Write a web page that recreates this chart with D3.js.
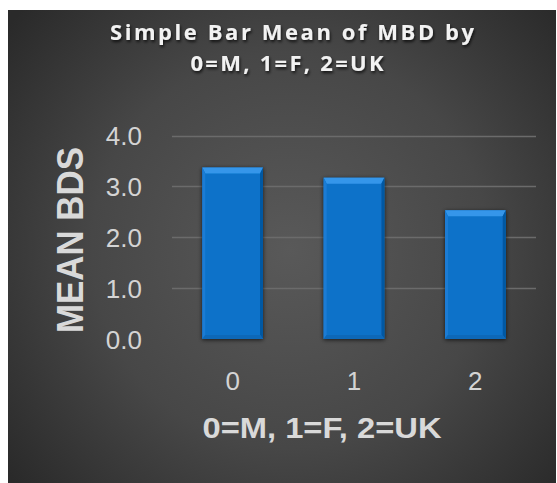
<!DOCTYPE html>
<html>
<head>
<meta charset="utf-8">
<script src="https://cdn.jsdelivr.net/npm/d3@7/dist/d3.min.js"></script>
<style>
  html, body { margin: 0; padding: 0; background: #ffffff; }
  svg { display: block; }
</style>
</head>
<body>
<script>
// Chart data
const categories = ["0", "1", "2"];
const meanValues = [3.37, 3.17, 2.53];
const yTicks = [0, 1, 2, 3, 4];
const titleLines = ["Simple Bar Mean of MBD by", "0=M, 1=F, 2=UK"];
const xTitle = "0=M, 1=F, 2=UK";
const yTitle = "MEAN BDS";

const W = 557, H = 483;
const panel = { x: 8, y: 10, w: 548, h: 473 };
const plot = { left: 172, right: 536, top: 135.5, bottom: 339 };

const svg = d3.select("body").append("svg")
  .attr("width", W).attr("height", H);

const defs = svg.append("defs");

// Dark radial backdrop
const bg = defs.append("radialGradient").attr("id", "bgGrad")
  .attr("gradientUnits", "userSpaceOnUse")
  .attr("cx", 290).attr("cy", 250).attr("r", 360);
bg.append("stop").attr("offset", "0%").attr("stop-color", "#595959");
bg.append("stop").attr("offset", "55%").attr("stop-color", "#474747");
bg.append("stop").attr("offset", "100%").attr("stop-color", "#2a2a2a");

// Soft text shadow
const ts = defs.append("filter").attr("id", "textShadow")
  .attr("x", "-10%").attr("y", "-30%").attr("width", "120%").attr("height", "160%");
ts.append("feDropShadow").attr("dx", 1).attr("dy", 2).attr("stdDeviation", 1.5)
  .attr("flood-color", "#000").attr("flood-opacity", 0.75);

// Outer shadow for bars
const bs = defs.append("filter").attr("id", "barShadow")
  .attr("x", "-30%").attr("y", "-10%").attr("width", "160%").attr("height", "120%");
bs.append("feDropShadow").attr("dx", 0).attr("dy", 1).attr("stdDeviation", 2.2)
  .attr("flood-color", "#000").attr("flood-opacity", 0.7);

const ls = defs.append("filter").attr("id", "lineShadow")
  .attr("x", "-5%").attr("y", "-200%").attr("width", "110%").attr("height", "500%");
ls.append("feDropShadow").attr("dx", 0).attr("dy", 2).attr("stdDeviation", 1.2)
  .attr("flood-color", "#000").attr("flood-opacity", 0.7);

svg.append("rect")
  .attr("x", panel.x).attr("y", panel.y)
  .attr("width", panel.w).attr("height", panel.h)
  .attr("fill", "url(#bgGrad)");

// Scales
const x = d3.scaleBand().domain(categories)
  .range([plot.left, plot.right]).paddingInner(0.5).paddingOuter(0.25);
const y = d3.scaleLinear().domain([0, 4]).range([plot.bottom, plot.top]);

// Gridlines
svg.append("g").selectAll("line").data(yTicks.filter(d => d > 0)).join("line")
  .attr("x1", plot.left).attr("x2", plot.right)
  .attr("y1", d => Math.round(y(d)) + 0.5).attr("y2", d => Math.round(y(d)) + 0.5)
  .attr("stroke", "#6b6b6b").attr("stroke-width", 1.3);

// Y tick labels
const yAxis = d3.axisLeft(y).tickValues(yTicks).tickFormat(d3.format(".1f")).tickSize(0).tickPadding(0);
const yg = svg.append("g").attr("transform", `translate(${142},0)`).call(yAxis);
yg.select(".domain").remove();
yg.selectAll("text")
  .attr("fill", "#d4d4d4")
  .style("font-family", "'Liberation Sans', Arial, sans-serif")
  .style("font-size", "26px")
  .attr("dy", "0.36em");

// Bars with bevelled faces
const bevTop = 6, bevSide = 3, bevBot = 4;
const bars = svg.append("g").selectAll("g").data(meanValues).join("g")
  .attr("filter", "url(#barShadow)");

bars.append("rect")
  .attr("x", (d, i) => x(categories[i]))
  .attr("y", d => y(d))
  .attr("width", x.bandwidth())
  .attr("height", d => y(0) - y(d))
  .attr("fill", "#0a72c9");

const face = (d, i, kind) => {
  const x0 = x(categories[i]), x1 = x0 + x.bandwidth();
  const t = y(d), b = y(0);
  if (kind === "top") return [[x0, t], [x1, t], [x1 - bevSide, t + bevTop], [x0 + bevSide, t + bevTop]];
  if (kind === "left") return [[x0, t], [x0 + bevSide, t + bevTop], [x0 + bevSide, b - bevBot], [x0, b]];
  if (kind === "right") return [[x1, t], [x1 - bevSide, t + bevTop], [x1 - bevSide, b - bevBot], [x1, b]];
  return [[x0, b], [x1, b], [x1 - bevSide, b - bevBot], [x0 + bevSide, b - bevBot]];
};
const faceFill = { top: "#3496ea", left: "#1a7cd4", right: "#0658a3", bottom: "#0d68b8" };
["top", "left", "right", "bottom"].forEach(kind => {
  bars.append("polygon")
    .attr("points", (d, i) => face(d, i, kind).map(p => p.join(",")).join(" "))
    .attr("fill", faceFill[kind]);
});

// Category axis line
svg.append("line")
  .attr("x1", plot.left).attr("x2", plot.right)
  .attr("y1", y(0)).attr("y2", y(0))
  .attr("stroke", "#c4c4c4").attr("stroke-width", 2.5)
  .attr("filter", "url(#lineShadow)");

// X tick labels
const xAxis = d3.axisBottom(x).tickSize(0).tickPadding(0);
const xg = svg.append("g").attr("transform", `translate(0,${390})`).call(xAxis);
xg.select(".domain").remove();
xg.selectAll("text")
  .attr("fill", "#d4d4d4")
  .attr("dy", 0)
  .style("font-family", "'Liberation Sans', Arial, sans-serif")
  .style("font-size", "26px");

// Title
const titleWidths = [364, 193];
const title = svg.append("g").attr("filter", "url(#textShadow)");
title.selectAll("text").data(titleLines).join("text")
  .attr("x", (d, i) => i === 0 ? 292 : 287)
  .attr("y", (d, i) => 40 + i * 31)
  .attr("text-anchor", "middle")
  .attr("fill", "#f2f2f2")
  .attr("textLength", (d, i) => titleWidths[i])
  .attr("lengthAdjust", "spacing")
  .style("font-family", "'Open Sans', 'Liberation Sans', sans-serif")
  .style("font-weight", "700")
  .style("font-size", "22px")
  .text(d => d);

// Axis titles
svg.append("text")
  .attr("x", 322).attr("y", 438)
  .attr("text-anchor", "middle")
  .attr("fill", "#d9d9d9")
  .attr("textLength", 239).attr("lengthAdjust", "spacingAndGlyphs")
  .style("font-family", "'Liberation Sans', Arial, sans-serif")
  .style("font-weight", "700")
  .style("font-size", "29px")
  .text(xTitle);

svg.append("text")
  .attr("transform", "translate(83,240) rotate(-90)")
  .attr("text-anchor", "middle")
  .attr("fill", "#d9d9d9")
  .attr("textLength", 186).attr("lengthAdjust", "spacingAndGlyphs")
  .style("font-family", "'Liberation Sans', Arial, sans-serif")
  .style("font-weight", "700")
  .style("font-size", "37px")
  .text(yTitle);
</script>
</body>
</html>
